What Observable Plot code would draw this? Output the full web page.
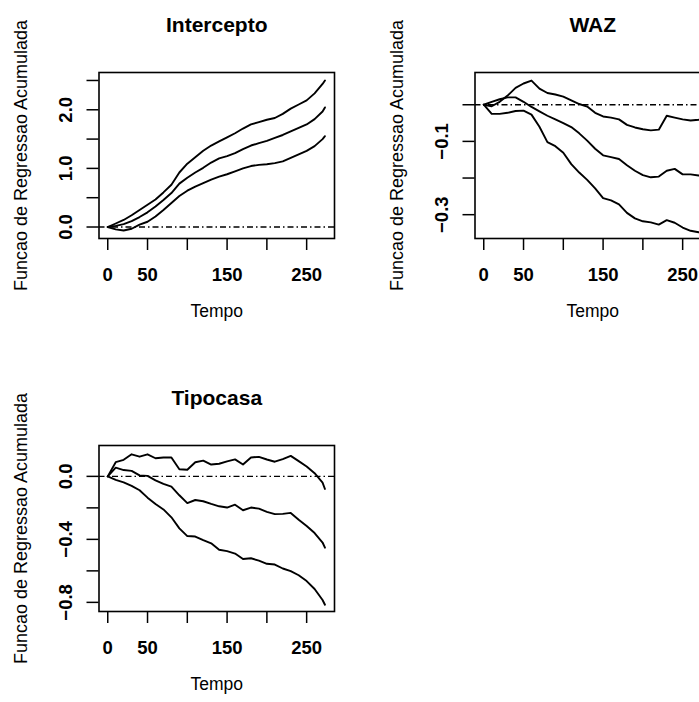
<!DOCTYPE html>
<html>
<head>
<meta charset="utf-8">
<script src="https://cdn.jsdelivr.net/npm/d3@7"></script>
<script src="https://cdn.jsdelivr.net/npm/@observablehq/plot@0.6"></script>
<style>
  html, body { margin: 0; padding: 0; background: white; overflow: hidden; }
  #wrap { position: relative; width: 699px; height: 702px; overflow: hidden; background: white; }
  #wrap svg { position: absolute; }
</style>
</head>
<body>
<div id="wrap"></div>
<script>
const times = [0,10,20,30,40,50,60,70,80,90,100,110,120,130,140,150,160,170,180,190,200,210,220,230,240,250,260,270,273];

const intUpper = [0,0.06,0.12,0.2,0.29,0.38,0.47,0.59,0.72,0.93,1.08,1.19,1.3,1.39,1.46,1.53,1.6,1.68,1.75,1.79,1.83,1.86,1.93,2.02,2.09,2.16,2.28,2.44,2.5];
const intEst   = [0,0.02,0.05,0.1,0.17,0.25,0.35,0.46,0.58,0.74,0.84,0.93,1.01,1.1,1.17,1.21,1.26,1.33,1.39,1.43,1.47,1.52,1.57,1.63,1.69,1.75,1.84,1.97,2.04];
const intLower = [0,-0.04,-0.06,-0.03,0.04,0.09,0.18,0.29,0.41,0.53,0.62,0.69,0.75,0.81,0.86,0.9,0.95,1.0,1.04,1.06,1.07,1.09,1.12,1.18,1.24,1.3,1.38,1.5,1.55];

const wazUpper = [0,-0.004,0.008,0.025,0.046,0.058,0.066,0.044,0.032,0.028,0.022,0.012,0.002,-0.005,-0.022,-0.032,-0.035,-0.04,-0.055,-0.062,-0.067,-0.07,-0.068,-0.03,-0.035,-0.04,-0.043,-0.041,-0.04];
const wazEst   = [0,0.008,0.015,0.02,0.02,0.008,-0.006,-0.018,-0.03,-0.04,-0.05,-0.061,-0.078,-0.098,-0.12,-0.138,-0.143,-0.148,-0.165,-0.18,-0.192,-0.198,-0.196,-0.18,-0.175,-0.19,-0.19,-0.193,-0.193];
const wazLower = [0,-0.025,-0.025,-0.022,-0.017,-0.016,-0.027,-0.06,-0.102,-0.113,-0.131,-0.162,-0.185,-0.205,-0.228,-0.255,-0.261,-0.272,-0.295,-0.31,-0.318,-0.321,-0.327,-0.315,-0.322,-0.335,-0.344,-0.348,-0.348];

const tipUpper = [0,0.09,0.105,0.14,0.125,0.14,0.115,0.12,0.12,0.045,0.042,0.09,0.1,0.075,0.08,0.095,0.108,0.075,0.12,0.124,0.107,0.093,0.11,0.13,0.097,0.063,0.02,-0.04,-0.08];
const tipEst   = [0,0.055,0.04,0.035,0.006,0.003,-0.025,-0.048,-0.065,-0.12,-0.17,-0.15,-0.158,-0.175,-0.19,-0.198,-0.18,-0.215,-0.198,-0.205,-0.225,-0.24,-0.238,-0.232,-0.275,-0.315,-0.36,-0.42,-0.453];
const tipLower = [0,-0.022,-0.038,-0.06,-0.088,-0.135,-0.175,-0.21,-0.26,-0.33,-0.379,-0.382,-0.405,-0.425,-0.466,-0.475,-0.49,-0.525,-0.52,-0.535,-0.555,-0.56,-0.585,-0.602,-0.628,-0.665,-0.715,-0.785,-0.815];

const xTicks = [0,50,100,150,200,250];
const xLabels = [0,50,150,250];
const intYTicks = [0,0.5,1,1.5,2,2.5];
const intYLabels = [0,1,2];
const wazYTicks = [0,-0.1,-0.2,-0.3];
const wazYLabels = [-0.1,-0.3];
const tipYTicks = [0,-0.2,-0.4,-0.6,-0.8];
const tipYLabels = [0,-0.4,-0.8];

const titles = ["Intercepto", "WAZ", "Tipocasa"];
const xTitle = "Tempo";
const yTitle = "Funcao de Regressao Acumulada";

const fmt = d => (Math.abs(d) < 1e-9 ? 0 : d).toFixed(1).replace("-", "\u2212");
const FONT = "'Liberation Sans', Arial, Helvetica, sans-serif";

function panel(title, curves, yDomain, yTicks, yLabels, left, top) {
  const lines = curves.map(arr => Plot.line(times.map((t, i) => ({t, v: arr[i]})), {
    x: "t", y: "v", stroke: "black", strokeWidth: 1.9, strokeLinejoin: "round"
  }));
  const svg = Plot.plot({
    width: 350, height: 329,
    marginLeft: 98.5, marginRight: 16, marginTop: 72, marginBottom: 91,
    style: {fontFamily: FONT, background: "transparent", color: "black", overflow: "visible"},
    x: {domain: [-11, 285]},
    y: {domain: yDomain},
    marks: [
      Plot.ruleY([0], {stroke: "black", strokeWidth: 1.3, strokeDasharray: "6,3,1.5,3"}),
      ...lines,
      Plot.frame({stroke: "black", strokeWidth: 1.6}),
      Plot.axisX({ticks: xTicks, tickSize: 12, strokeWidth: 1.5, tickPadding: 17,
        tickFormat: d => xLabels.includes(d) ? String(d) : "",
        fontSize: 18.5, fontWeight: "bold", label: null}),
      Plot.axisY({ticks: yTicks, tickSize: 12, strokeWidth: 1.5, tickFormat: () => "", label: null}),
      Plot.text(yLabels, {y: d => d, text: d => fmt(d), frameAnchor: "left", rotate: -90,
        dx: -27, lineAnchor: "bottom", textAnchor: "middle", fontSize: 18.5, fontWeight: "bold"}),
      Plot.text([title], {text: d => d, frameAnchor: "top", dy: -40.3, lineAnchor: "bottom",
        fontSize: 21, fontWeight: "bold"}),
      Plot.text([xTitle], {text: d => d, frameAnchor: "bottom", dy: 78, lineAnchor: "bottom",
        fontSize: 17.5}),
      Plot.text([yTitle], {text: d => d, frameAnchor: "left", rotate: -90, dx: -72,
        lineAnchor: "bottom", textAnchor: "middle", fontSize: 18})
    ]
  });
  svg.style.left = left + "px";
  svg.style.top = top + "px";
  document.getElementById("wrap").appendChild(svg);
}

panel(titles[0], [intUpper, intEst, intLower], [-0.196, 2.636], intYTicks, intYLabels, 0, 0);
panel(titles[1], [wazUpper, wazEst, wazLower], [-0.365, 0.088], wazYTicks, wazYLabels, 375.7, 0);
panel(titles[2], [tipUpper, tipEst, tipLower], [-0.858, 0.196], tipYTicks, tipYLabels, 0, 373);
</script>
</body>
</html>
